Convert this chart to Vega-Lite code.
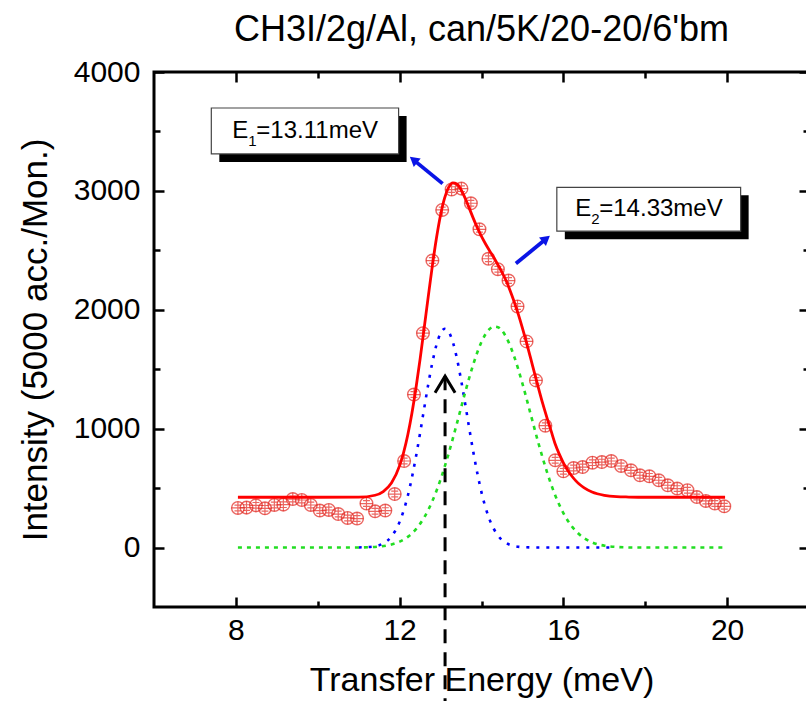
{
  "$schema": "https://vega.github.io/schema/vega-lite/v6.json",
  "width": 655,
  "height": 535,
  "autosize": {"type": "none"},
  "padding": {"left": 154, "top": 72, "right": 0, "bottom": 94},
  "background": "white",
  "config": {
    "view": {"stroke": "black", "strokeWidth": 3},
    "font": "Liberation Sans",
    "axis": {"grid": false, "domain": false, "tickColor": "black", "tickWidth": 2.5, "labelFont": "Liberation Sans", "labelFontSize": 30, "labelColor": "black", "titleFont": "Liberation Sans", "titleColor": "black", "titleFontWeight": "normal", "format": "d"}
  },
  "title": {"text": "CH3I/2g/Al, can/5K/20-20/6'bm", "fontSize": 36, "font": "Liberation Sans", "fontWeight": "normal", "anchor": "middle", "offset": 8, "color": "black"},
  "datasets": {
    "points": [
      {"E": 8.05, "I": 333}, {"E": 8.26, "I": 336}, {"E": 8.49, "I": 355}, {"E": 8.71, "I": 330}, {"E": 8.94, "I": 358},
      {"E": 9.16, "I": 361}, {"E": 9.39, "I": 408}, {"E": 9.61, "I": 400}, {"E": 9.83, "I": 358}, {"E": 10.05, "I": 311},
      {"E": 10.27, "I": 316}, {"E": 10.5, "I": 282}, {"E": 10.73, "I": 249}, {"E": 10.96, "I": 244}, {"E": 11.19, "I": 370},
      {"E": 11.4, "I": 305}, {"E": 11.65, "I": 311}, {"E": 11.88, "I": 450}, {"E": 12.11, "I": 728}, {"E": 12.35, "I": 1287},
      {"E": 12.57, "I": 1803}, {"E": 12.8, "I": 2414}, {"E": 13.04, "I": 2840}, {"E": 13.27, "I": 3011}, {"E": 13.51, "I": 3019},
      {"E": 13.74, "I": 2896}, {"E": 13.95, "I": 2677}, {"E": 14.17, "I": 2429}, {"E": 14.4, "I": 2341}, {"E": 14.66, "I": 2246},
      {"E": 14.88, "I": 2028}, {"E": 15.1, "I": 1734}, {"E": 15.33, "I": 1406}, {"E": 15.56, "I": 1025}, {"E": 15.8, "I": 734},
      {"E": 16.0, "I": 641}, {"E": 16.25, "I": 669}, {"E": 16.47, "I": 677}, {"E": 16.71, "I": 714}, {"E": 16.94, "I": 719},
      {"E": 17.17, "I": 728}, {"E": 17.41, "I": 686}, {"E": 17.65, "I": 650}, {"E": 17.87, "I": 608}, {"E": 18.1, "I": 599},
      {"E": 18.33, "I": 566}, {"E": 18.55, "I": 524}, {"E": 18.78, "I": 496}, {"E": 19.03, "I": 482}, {"E": 19.26, "I": 425},
      {"E": 19.48, "I": 392}, {"E": 19.7, "I": 370}, {"E": 19.93, "I": 347}
    ],
    "fit": [
      {"E": 8.05, "I": 423}, {"E": 9.0, "I": 423}, {"E": 10.0, "I": 423}, {"E": 11.0, "I": 424}, {"E": 11.4, "I": 440},
      {"E": 11.6, "I": 471}, {"E": 11.8, "I": 542}, {"E": 12.0, "I": 689}, {"E": 12.1, "I": 803}, {"E": 12.2, "I": 949},
      {"E": 12.3, "I": 1130}, {"E": 12.4, "I": 1344}, {"E": 12.5, "I": 1585}, {"E": 12.6, "I": 1847}, {"E": 12.7, "I": 2113},
      {"E": 12.8, "I": 2371}, {"E": 12.9, "I": 2603}, {"E": 13.0, "I": 2797}, {"E": 13.1, "I": 2941}, {"E": 13.2, "I": 3031},
      {"E": 13.3, "I": 3068}, {"E": 13.4, "I": 3058}, {"E": 13.5, "I": 3010}, {"E": 13.6, "I": 2939}, {"E": 13.7, "I": 2855},
      {"E": 13.8, "I": 2769}, {"E": 13.9, "I": 2689}, {"E": 14.0, "I": 2617}, {"E": 14.1, "I": 2553}, {"E": 14.2, "I": 2495},
      {"E": 14.3, "I": 2439}, {"E": 14.4, "I": 2379}, {"E": 14.5, "I": 2316}, {"E": 14.6, "I": 2246}, {"E": 14.7, "I": 2161},
      {"E": 14.8, "I": 2066}, {"E": 14.9, "I": 1961}, {"E": 15.0, "I": 1846}, {"E": 15.1, "I": 1723}, {"E": 15.2, "I": 1593},
      {"E": 15.3, "I": 1461}, {"E": 15.4, "I": 1331}, {"E": 15.5, "I": 1206}, {"E": 15.6, "I": 1091}, {"E": 15.7, "I": 981},
      {"E": 15.8, "I": 871}, {"E": 15.9, "I": 786}, {"E": 16.0, "I": 713}, {"E": 16.1, "I": 653}, {"E": 16.2, "I": 604},
      {"E": 16.3, "I": 563}, {"E": 16.4, "I": 530}, {"E": 16.5, "I": 504}, {"E": 16.7, "I": 467}, {"E": 17.0, "I": 439},
      {"E": 17.3, "I": 428}, {"E": 17.6, "I": 425}, {"E": 18.0, "I": 423}, {"E": 19.0, "I": 423}, {"E": 19.95, "I": 423}
    ],
    "peak1": [
      {"E": 11.0, "I": 1}, {"E": 11.4, "I": 11}, {"E": 11.6, "I": 35}, {"E": 11.8, "I": 93}, {"E": 12.0, "I": 216},
      {"E": 12.2, "I": 436}, {"E": 12.4, "I": 766}, {"E": 12.5, "I": 963}, {"E": 12.6, "I": 1171}, {"E": 12.7, "I": 1374},
      {"E": 12.8, "I": 1557}, {"E": 12.9, "I": 1704}, {"E": 13.0, "I": 1802}, {"E": 13.1, "I": 1840}, {"E": 13.2, "I": 1814},
      {"E": 13.3, "I": 1728}, {"E": 13.4, "I": 1590}, {"E": 13.5, "I": 1412}, {"E": 13.6, "I": 1212}, {"E": 13.7, "I": 1004},
      {"E": 13.8, "I": 804}, {"E": 13.9, "I": 622}, {"E": 14.0, "I": 464}, {"E": 14.2, "I": 233}, {"E": 14.4, "I": 102},
      {"E": 14.6, "I": 39}, {"E": 14.8, "I": 13}, {"E": 15.0, "I": 4}, {"E": 15.4, "I": 0}, {"E": 16.0, "I": 0}, {"E": 17.2, "I": 0}
    ],
    "peak2": [
      {"E": 8.05, "I": 0}, {"E": 10.0, "I": 0}, {"E": 11.0, "I": 1}, {"E": 11.5, "I": 9}, {"E": 11.8, "I": 26},
      {"E": 12.0, "I": 50}, {"E": 12.2, "I": 90}, {"E": 12.4, "I": 155}, {"E": 12.6, "I": 253}, {"E": 12.8, "I": 391},
      {"E": 13.0, "I": 572}, {"E": 13.2, "I": 794}, {"E": 13.4, "I": 1045}, {"E": 13.6, "I": 1304}, {"E": 13.8, "I": 1542},
      {"E": 14.0, "I": 1730}, {"E": 14.1, "I": 1795}, {"E": 14.2, "I": 1839}, {"E": 14.3, "I": 1859}, {"E": 14.4, "I": 1854},
      {"E": 14.5, "I": 1825}, {"E": 14.6, "I": 1772}, {"E": 14.8, "I": 1605}, {"E": 15.0, "I": 1379}, {"E": 15.2, "I": 1123},
      {"E": 15.4, "I": 867}, {"E": 15.6, "I": 635}, {"E": 15.8, "I": 440}, {"E": 16.0, "I": 290}, {"E": 16.2, "I": 181},
      {"E": 16.4, "I": 107}, {"E": 16.7, "I": 44}, {"E": 17.0, "I": 16}, {"E": 17.3, "I": 5}, {"E": 17.6, "I": 1},
      {"E": 18.0, "I": 0}, {"E": 19.0, "I": 0}, {"E": 19.95, "I": 0}
    ],
    "boxes": [
      {"name": "E1", "x1": 7.4, "x2": 11.975, "y1": 3697, "y2": 3311, "tx": 7.914, "ty": 3448, "sub": "1", "rest": "=13.11meV"},
      {"name": "E2", "x1": 15.84, "x2": 20.33, "y1": 3030, "y2": 2661, "tx": 16.29, "ty": 2792, "sub": "2", "rest": "=14.33meV"}
    ],
    "arrows": [
      {"name": "a1", "E": 13.05, "I": 3061, "E2": 12.34, "I2": 3261},
      {"name": "a2", "E": 14.84, "I": 2389, "E2": 15.58, "I2": 2597}
    ],
    "marker": [
      {"E": 13.11, "top": 1440, "bottom": -1300}
    ],
    "chevron": [
      {"k": 1, "E": 12.865, "I": 1302}, {"k": 2, "E": 13.11, "I": 1442}, {"k": 3, "E": 13.355, "I": 1302}
    ]
  },
  "resolve": {"axis": {"x": "independent", "y": "independent"}},
  "layer": [
    {
      "data": {"name": "peak1"},
      "mark": {"type": "line", "color": "#0000ff", "strokeWidth": 2.6, "strokeDash": [3, 7], "interpolate": "monotone"},
      "encoding": {
        "x": {"field": "E", "type": "quantitative", "scale": {"domain": [6, 22], "nice": false, "zero": false},
          "axis": {"values": [8, 12, 16, 20], "tickSize": -10, "labelPadding": 18, "title": "Transfer Energy (meV)", "titleFontSize": 34, "titlePadding": 18}},
        "y": {"field": "I", "type": "quantitative", "scale": {"domain": [-500, 4000], "nice": false, "zero": false},
          "axis": {"values": [0, 1000, 2000, 3000, 4000], "tickSize": -10, "labelPadding": 24, "title": "Intensity (5000 acc./Mon.)", "titleFontSize": 35, "titlePadding": 20}}
      }
    },
    {
      "data": {"name": "peak2"},
      "mark": {"type": "line", "color": "#22dd22", "strokeWidth": 2.6, "strokeDash": [4, 5], "interpolate": "monotone"},
      "encoding": {
        "x": {"field": "E", "type": "quantitative", "axis": {"orient": "top", "values": [8, 12, 16, 20], "tickSize": -10, "labels": false, "title": null}},
        "y": {"field": "I", "type": "quantitative", "axis": {"orient": "right", "values": [0, 1000, 2000, 3000, 4000], "tickSize": -10, "labels": false, "title": null}}
      }
    },
    {
      "data": {"name": "points"},
      "mark": {"type": "point", "shape": "circle", "filled": false, "color": "#e3261f", "strokeWidth": 1.4, "size": 160},
      "encoding": {
        "x": {"field": "E", "type": "quantitative", "axis": {"values": [10, 14, 18], "tickSize": -6, "labels": false, "title": null}},
        "y": {"field": "I", "type": "quantitative", "axis": {"values": [500, 1500, 2500, 3500], "tickSize": -6, "labels": false, "title": null}}
      }
    },
    {
      "data": {"name": "points"},
      "mark": {"type": "point", "shape": "M-1,0H1M0,-1V1M-0.55,-0.45H0.55M-0.55,0.45H0.55", "filled": false, "color": "#e3261f", "strokeWidth": 1.2, "size": 160},
      "encoding": {
        "x": {"field": "E", "type": "quantitative", "axis": {"orient": "top", "values": [10, 14, 18], "tickSize": -6, "labels": false, "title": null}},
        "y": {"field": "I", "type": "quantitative", "axis": {"orient": "right", "values": [500, 1500, 2500, 3500], "tickSize": -6, "labels": false, "title": null}}
      }
    },
    {
      "data": {"name": "fit"},
      "mark": {"type": "line", "color": "#ff0000", "strokeWidth": 2.8, "interpolate": "monotone"},
      "encoding": {
        "x": {"field": "E", "type": "quantitative", "axis": null},
        "y": {"field": "I", "type": "quantitative", "axis": null}
      }
    },
    {
      "data": {"name": "marker"},
      "mark": {"type": "rule", "color": "black", "strokeWidth": 3, "strokeDash": [14, 9], "clip": false},
      "encoding": {
        "x": {"field": "E", "type": "quantitative", "axis": null},
        "y": {"field": "top", "type": "quantitative", "axis": null},
        "y2": {"field": "bottom"}
      }
    },
    {
      "data": {"name": "chevron"},
      "mark": {"type": "line", "color": "black", "strokeWidth": 3, "clip": false},
      "encoding": {
        "x": {"field": "E", "type": "quantitative", "axis": null},
        "y": {"field": "I", "type": "quantitative", "axis": null},
        "order": {"field": "k"}
      }
    },
    {
      "data": {"name": "arrows"},
      "mark": {"type": "rule", "color": "#0a14e6", "strokeWidth": 3.8},
      "encoding": {
        "x": {"field": "E", "type": "quantitative", "axis": null},
        "y": {"field": "I", "type": "quantitative", "axis": null},
        "x2": {"field": "E2"},
        "y2": {"field": "I2"}
      }
    },
    {
      "data": {"name": "arrows"},
      "transform": [{"filter": "datum.name === 'a1'"}],
      "mark": {"type": "point", "shape": "triangle-up", "filled": true, "color": "#0a14e6", "opacity": 1, "size": 120, "angle": 309},
      "encoding": {
        "x": {"field": "E2", "type": "quantitative", "axis": null},
        "y": {"field": "I2", "type": "quantitative", "axis": null}
      }
    },
    {
      "data": {"name": "arrows"},
      "transform": [{"filter": "datum.name === 'a2'"}],
      "mark": {"type": "point", "shape": "triangle-up", "filled": true, "color": "#0a14e6", "opacity": 1, "size": 120, "angle": 51},
      "encoding": {
        "x": {"field": "E2", "type": "quantitative", "axis": null},
        "y": {"field": "I2", "type": "quantitative", "axis": null}
      }
    },
    {
      "data": {"name": "boxes"},
      "mark": {"type": "rect", "color": "black", "xOffset": 8, "x2Offset": 8, "yOffset": 8, "y2Offset": 8},
      "encoding": {
        "x": {"field": "x1", "type": "quantitative", "axis": null},
        "x2": {"field": "x2"},
        "y": {"field": "y1", "type": "quantitative", "axis": null},
        "y2": {"field": "y2"}
      }
    },
    {
      "data": {"name": "boxes"},
      "mark": {"type": "rect", "fill": "white", "stroke": "#444444", "strokeWidth": 1.2},
      "encoding": {
        "x": {"field": "x1", "type": "quantitative", "axis": null},
        "x2": {"field": "x2"},
        "y": {"field": "y1", "type": "quantitative", "axis": null},
        "y2": {"field": "y2"}
      }
    },
    {
      "data": {"name": "boxes"},
      "mark": {"type": "text", "align": "left", "baseline": "alphabetic", "fontSize": 24, "font": "Liberation Sans", "color": "black", "text": "E"},
      "encoding": {
        "x": {"field": "tx", "type": "quantitative", "axis": null},
        "y": {"field": "ty", "type": "quantitative", "axis": null}
      }
    },
    {
      "data": {"name": "boxes"},
      "mark": {"type": "text", "align": "left", "baseline": "alphabetic", "fontSize": 15, "font": "Liberation Sans", "color": "black", "dx": 16, "dy": 8},
      "encoding": {
        "x": {"field": "tx", "type": "quantitative", "axis": null},
        "y": {"field": "ty", "type": "quantitative", "axis": null},
        "text": {"field": "sub"}
      }
    },
    {
      "data": {"name": "boxes"},
      "mark": {"type": "text", "align": "left", "baseline": "alphabetic", "fontSize": 24, "font": "Liberation Sans", "color": "black", "dx": 24},
      "encoding": {
        "x": {"field": "tx", "type": "quantitative", "axis": null},
        "y": {"field": "ty", "type": "quantitative", "axis": null},
        "text": {"field": "rest"}
      }
    }
  ]
}
